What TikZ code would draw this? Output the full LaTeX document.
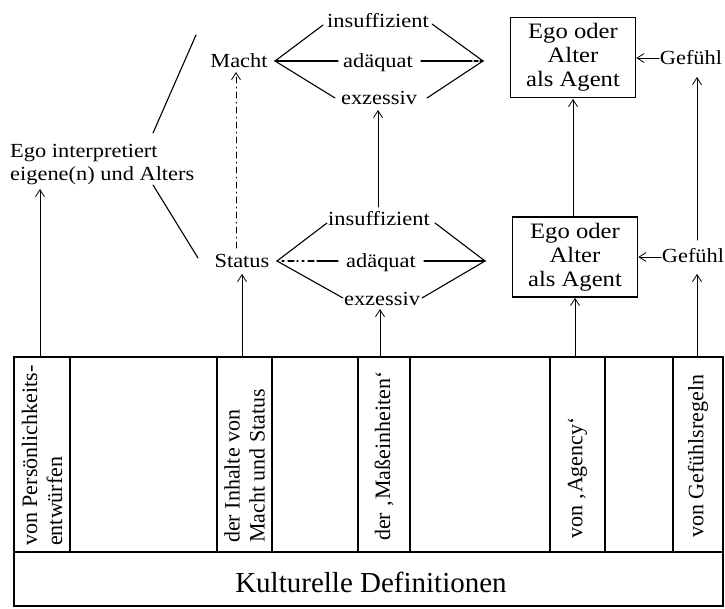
\documentclass[tikz,border=0pt]{standalone}
\usepackage{fontspec}
\setmainfont{Liberation Serif}
\newfontfamily\widefont{Liberation Serif}[FakeStretch=1.12]
\usetikzlibrary{arrows.meta}
\begin{document}
\begin{tikzpicture}[x=1pt,y=-1pt,line cap=round]
\useasboundingbox (0,0) rectangle (725,608);
\tikzset{
  txt/.style={font=\widefont\fontsize{20}{23}\selectfont, inner sep=0pt, anchor=base},
  conn/.style={line width=1.1pt},
  up/.style={line width=1pt, -{Straight Barb[length=7pt,width=9pt,line width=0.8pt]}},
  frame/.style={line width=1.8pt},
  agent/.style={draw, line width=1.8pt, minimum width=125pt, minimum height=80pt,
    align=center, font=\widefont\fontsize{22}{24}\selectfont, inner sep=0pt},
  rot/.style={rotate=90, anchor=west, align=left, font=\fontsize{22}{25}\selectfont, inner sep=0pt}
}

% --- Ego
\node[txt, anchor=north west, align=left] (ego) at (10,144) {Ego interpretiert\\eigene(n) und Alters};

% --- Macht and its scale
\node[txt] (macht) at (239,67) {Macht};
\node[txt] (mins) at (378,27) {insuffizient};
\node[txt] (mad) at (378,67) {adäquat};
\node[txt] (mex) at (379,104) {exzessiv};
\coordinate (mL) at (275,61);
\coordinate (mR) at (483,61);
\draw[conn] (323,25) -- (mL) -- (335,98);
\draw[conn] (432,24) -- (mR) -- (427,98);
\draw[conn] (mL) -- (338,61);
\draw[conn] (421,61) -- (468,61);
\draw[conn, dashed, dash pattern=on 4pt off 2pt] (468,61) -- (mR);

% --- Status and its scale
\node[txt] (status) at (242,267) {Status};
\node[txt] (sins) at (379,225) {insuffizient};
\node[txt] (sad) at (381,267) {adäquat};
\node[txt] (sex) at (382,305) {exzessiv};
\coordinate (sL) at (277,261);
\coordinate (sR) at (485,261);
\draw[conn] (327,223) -- (sL) -- (343,298);
\draw[conn] (435,223) -- (sR) -- (422,298);
\draw[conn, dash pattern=on 1pt off 4pt on 2pt off 4pt on 6pt off 3pt] (sL) -- (318,261);
\draw[conn] (318,261) -- (338,261);
\draw[conn] (424,261) -- (sR);

% --- Agent boxes and feelings
\node[agent] (ag1) at (573,57.5) {Ego oder\\Alter\\als Agent};
\node[agent] (ag2) at (575,257) {Ego oder\\Alter\\als Agent};
\node[txt] (gef1) at (691,64) {Gefühl};
\node[txt] (gef2) at (693,262) {Gefühl};

% --- links from Ego
\draw[conn] (153,133) -- (196,35);
\draw[conn] (153,185) -- (198,258);

% --- table of cultural definitions
\draw[frame] (14,357) rectangle (723,606);
\draw[frame] (14,552) -- (723,552);
\foreach \cx in {70,217,272,358,410,550,605,673}
  \draw[frame] (\cx,357) -- (\cx,552);
\node[rot] (c1) at (42,546) {von Persönlichkeits-\\entwürfen};
\node[rot] (c2) at (244.5,543) {der Inhalte von\\Macht und Status};
\node[rot] (c3) at (384,541) {der ‚Maßeinheiten‘};
\node[rot] (c4) at (577.5,539) {von ‚Agency‘};
\node[rot] (c5) at (698,538) {von Gefühlsregeln};
\node[font=\fontsize{29}{32}\selectfont, inner sep=0pt, anchor=base] (kd) at (371,592) {Kulturelle Definitionen};

% --- upward connections
\coordinate (t1) at (40,357);
\coordinate (t2) at (242,357);
\coordinate (t3) at (380,357);
\coordinate (t4) at (575,357);
\coordinate (t5) at (697,357);
\draw[up] (t1) -- (40,189);
\draw[up] (t2) -- (242,274);
\draw[up] (t3) -- (380,309);
\draw[up] (t4) -- (ag2.south -| t4);
\draw[up] (t5) -- (697,274);
\draw[up, dash pattern=on 6pt off 4pt on 1pt off 4pt] (236,248) -- (236,72);
\draw[up] (378,207) -- (378,110);
\draw[up] (573,217) -- (573,99);
\draw[up] (697,240) -- (697,77);
\draw[up] (659,58) -- (ag1.east |- 0,58);
\draw[up] (661,257) -- (ag2.east |- 0,257);
\end{tikzpicture}
\end{document}
